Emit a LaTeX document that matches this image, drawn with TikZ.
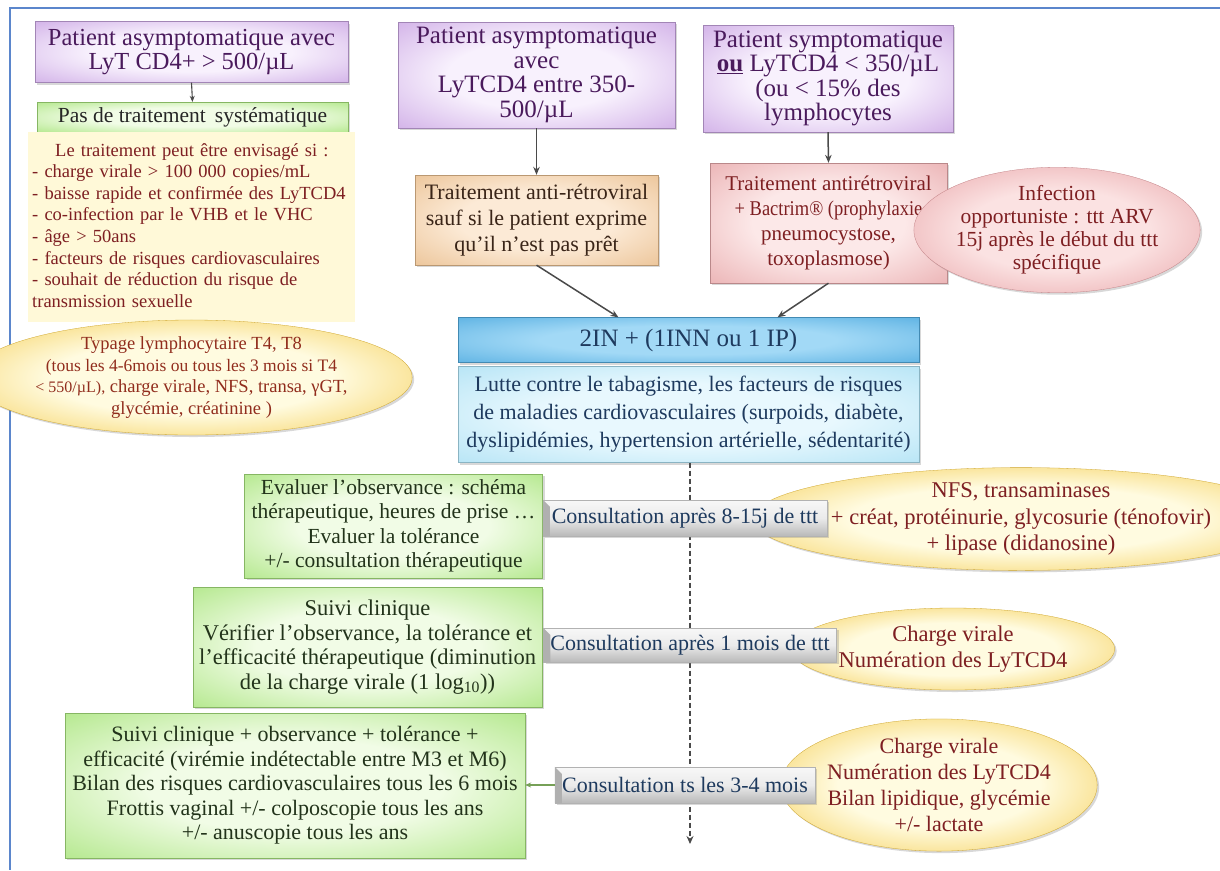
\documentclass[tikz,border=0pt]{standalone}
\usepackage{fontspec}
\usepackage{graphicx}
\setmainfont{Liberation Serif}
\usetikzlibrary{shapes.geometric,shadows,arrows.meta,calc}
\makeatletter
\pgfdeclareradialshading[tikz@radial@inner,tikz@radial@outer]{softradial}{\pgfpoint{0bp}{0bp}}{%
  color(0bp)=(tikz@radial@inner); color(16bp)=(tikz@radial@inner);
  color(40bp)=(tikz@radial@outer); color(50bp)=(tikz@radial@outer)}
\makeatother
\definecolor{frameblue}{HTML}{5B86CC}
\definecolor{purin}{HTML}{F8F1FD}
\definecolor{purout}{HTML}{CBA6E4}
\definecolor{purtxt}{HTML}{4A1A5C}
\definecolor{grnin}{HTML}{F1FCE6}
\definecolor{grnout}{HTML}{A8E47C}
\definecolor{grntxt}{HTML}{22331A}
\definecolor{creamfill}{HTML}{FFF9D8}
\definecolor{redtxt}{HTML}{7E1F22}
\definecolor{ylwin}{HTML}{FFFBE0}
\definecolor{ylwout}{HTML}{F2C232}
\definecolor{peachin}{HTML}{FCEAD6}
\definecolor{peachout}{HTML}{E9BE8E}
\definecolor{browntxt}{HTML}{3A2518}
\definecolor{pinkin}{HTML}{FCE8E8}
\definecolor{pinkout}{HTML}{E8AAAC}
\definecolor{rosein}{HTML}{FBE2E2}
\definecolor{roseout}{HTML}{E4989C}
\definecolor{bluein}{HTML}{A2D9F6}
\definecolor{blueout}{HTML}{52ACE0}
\definecolor{cyanin}{HTML}{E8F8FE}
\definecolor{cyanout}{HTML}{ADE1F4}
\definecolor{navytxt}{HTML}{1E3A5E}
\definecolor{arrowgray}{HTML}{4A4A4A}
\begin{document}
\begin{tikzpicture}[x=1pt,y=-1pt,
  base/.style={inner sep=2pt, align=center, drop shadow={shadow xshift=2pt, shadow yshift=-2pt, opacity=0.3}},
  purbox/.style={base, rectangle, inner color=purin, outer color=purout, shading=softradial, draw=purout!80!black, line width=0.3pt, text=purtxt},
  grnbox/.style={base, rectangle, inner color=grnin, outer color=grnout, shading=softradial, draw=grnout!80!black, line width=0.3pt, text=grntxt},
  peachbox/.style={base, rectangle, inner color=peachin, outer color=peachout, shading=softradial, draw=peachout!80!black, line width=0.3pt, text=browntxt},
  pinkbox/.style={base, rectangle, inner color=pinkin, outer color=pinkout, shading=softradial, draw=pinkout!80!black, line width=0.3pt, text=redtxt},
  bluebox/.style={base, rectangle, inner color=bluein, outer color=blueout, shading=softradial, draw=blueout!80!black, line width=0.3pt, text=navytxt},
  cyanbox/.style={base, rectangle, inner color=cyanin, outer color=cyanout, shading=softradial, draw=cyanout!80!black, line width=0.3pt, text=navytxt},
  ylwell/.style={base, ellipse, inner sep=0pt, inner color=ylwin, outer color=ylwout, shading=softradial, draw=ylwout!85!black, line width=0.3pt, text=redtxt},
  roseell/.style={base, ellipse, inner sep=0pt, inner color=rosein, outer color=roseout, shading=softradial, draw=roseout!85!black, line width=0.3pt, text=redtxt},
  consbar/.style={rectangle, inner sep=2pt, top color=gray!6, bottom color=gray!55, middle color=gray!16, draw=gray!60, line width=0.3pt, text=navytxt, font=\fontsize{22}{24}\selectfont, drop shadow={shadow xshift=2pt, shadow yshift=-2pt, opacity=0.3}},
  barcap/.style={fill=gray!62},
  darrow/.style={draw=arrowgray, line width=1.5pt, -{Stealth[length=8pt,width=6.5pt]}}
]
\useasboundingbox (0,0) rectangle (1220,870);
\fill[white] (0,0) rectangle (1220,870);
\draw[frameblue, line width=2pt] (1220,8) -- (10,8) -- (10,870);

% left column
\node[purbox, minimum width=313pt, minimum height=61pt, font=\fontsize{24.5}{24}\selectfont] (a) at (191.5,52)
  {Patient asymptomatique avec\\LyT CD4+ > 500/µL};
\node[grnbox, minimum width=311pt, minimum height=30pt, font=\fontsize{21.5}{22}\selectfont, text=black!85] (b) at (192.5,117)
  {Pas de traitement\, systématique};
\draw[darrow, line width=1.1pt, -{Stealth[length=6pt,width=5pt]}] (a.south) -- (b.north);
\node[rectangle, fill=creamfill, minimum width=327pt, minimum height=190pt, anchor=north west, inner sep=0pt] (cream) at (28,132) {};
\node[anchor=north west, inner sep=0pt, text width=326pt, align=left, text=redtxt, font=\fontsize{18.5}{21.6}\selectfont] (creamtxt) at (32,143)
  {\hspace*{23pt}Le traitement peut être envisagé si :\\
   - charge virale > 100 000 copies/mL\\
   - baisse rapide et confirmée des LyTCD4\\
   - co-infection par le VHB et le VHC\\
   - âge > 50ans\\
   - facteurs de risques cardiovasculaires\\
   - souhait de réduction du risque de\\
   transmission sexuelle};
\node[ylwell, minimum width=357pt, minimum height=111pt, text=redtxt!85!orange, font=\fontsize{18.5}{21.5}\selectfont] (typ) at (191.5,377.5)
  {Typage lymphocytaire T4, T8\\
   {\fontsize{17.5}{21.5}\selectfont (tous les 4-6mois ou tous les 3 mois si T4}\\
   {\fontsize{16}{21.5}\selectfont < 550/µL),} {\fontsize{18.5}{21.5}\selectfont charge virale, NFS, transa, γGT,}\\
   {\fontsize{18.5}{21.5}\selectfont glycémie, créatinine )}};

% middle column
\node[purbox, minimum width=277pt, minimum height=106pt, font=\fontsize{25}{24.5}\selectfont] (c) at (536.5,75)
  {Patient asymptomatique\\avec\\LyTCD4 entre 350-\\500/µL};
\node[peachbox, minimum width=243pt, minimum height=90pt, font=\fontsize{22}{26}\selectfont] (d) at (536.5,220)
  {Traitement anti-rétroviral\\sauf si le patient exprime\\qu’il n’est pas prêt};
\draw[darrow] (c.south) -- (d.north);

% right column
\node[purbox, minimum width=250pt, minimum height=107pt, font=\fontsize{25}{24.5}\selectfont] (e) at (828,78.5)
  {Patient symptomatique\\\underline{\textbf{ou}} LyTCD4 < 350/µL\\(ou < 15\% des\\lymphocytes};
\node[pinkbox, minimum width=237pt, minimum height=120pt, font=\fontsize{21}{25}\selectfont] (f) at (828.5,223)
  {Traitement antirétroviral\\\scalebox{0.88}[1]{+ Bactrim® (prophylaxie}\\pneumocystose,\\toxoplasmose)};
\draw[darrow] (e.south) -- (f.north);
\node[roseell, minimum width=217pt, minimum height=102pt, font=\fontsize{21.5}{23}\selectfont] (g) at (1057,230)
  {Infection\\opportuniste : ttt ARV\\15j après le début du ttt\\spécifique};

% central blue
\node[bluebox, minimum width=461pt, minimum height=45pt, font=\fontsize{25}{28}\selectfont] (h) at (688.5,340)
  {2IN + (1INN ou 1 IP)};
\node[cyanbox, minimum width=461pt, minimum height=96pt, font=\fontsize{22}{28}\selectfont] (i) at (688.5,414.5)
  {Lutte contre le tabagisme, les facteurs de risques\\de maladies cardiovasculaires (surpoids, diabète,\\dyslipidémies, hypertension artérielle, sédentarité)};
\draw[darrow] (d.south) -- ($(h.north)+(-70,0)$);
\draw[darrow] (f.south) -- ($(h.north)+(89,0)$);

% timeline
\coordinate (tend) at (690,844);
\draw[draw=arrowgray, line width=1.5pt, dash pattern=on 5pt off 3pt, -{Stealth[length=8pt,width=7pt]}] (i.south -| tend) -- (tend);

% follow-up 1
\node[grnbox, minimum width=298pt, minimum height=104pt, font=\fontsize{21.5}{24.5}\selectfont] (j) at (393.5,526)
  {Evaluer l’observance : schéma\\thérapeutique, heures de prise …\\Evaluer la tolérance\\+/- consultation thérapeutique};
\node[ylwell, minimum width=392pt, minimum height=95pt, font=\fontsize{22.5}{26.5}\selectfont] (l) at (1021,519)
  {NFS, transaminases\\+ créat, protéinurie, glycosurie (ténofovir)\\+ lipase (didanosine)};
\node[consbar, minimum width=284pt, minimum height=36pt] (k) at (685,518)
  {Consultation après 8-15j de ttt};
\fill[barcap] (k.north west) -- ($(k.north west)+(7,7)$) -- ($(k.south west)+(7,0)$) -- (k.south west) -- cycle;

% follow-up 2
\node[grnbox, minimum width=349pt, minimum height=120pt, font=\fontsize{22.5}{24.5}\selectfont] (m) at (367.5,647)
  {Suivi clinique\\Vérifier l’observance, la tolérance et\\l’efficacité thérapeutique (diminution\\de la charge virale (1 log\textsubscript{10}))};
\node[ylwell, minimum width=236pt, minimum height=82pt, font=\fontsize{22.5}{26.5}\selectfont] (o) at (953,649)
  {Charge virale\\Numération des LyTCD4};
\node[consbar, minimum width=293pt, minimum height=34pt] (n) at (690,645)
  {Consultation après 1 mois de ttt};
\fill[barcap] (n.north west) -- ($(n.north west)+(7,7)$) -- ($(n.south west)+(7,0)$) -- (n.south west) -- cycle;

% follow-up 3
\node[grnbox, minimum width=460pt, minimum height=145pt, font=\fontsize{22}{24.5}\selectfont] (p) at (295,785.5)
  {Suivi clinique + observance + tolérance +\\efficacité (virémie indétectable entre M3 et M6)\\Bilan des risques cardiovasculaires tous les 6 mois\\Frottis vaginal +/- colposcopie tous les ans\\+/- anuscopie tous les ans};
\node[ylwell, minimum width=250pt, minimum height=116pt, font=\fontsize{22}{26}\selectfont] (r) at (939,785)
  {Charge virale\\Numération des LyTCD4\\Bilan lipidique, glycémie\\+/- lactate};
\node[consbar, minimum width=260pt, minimum height=36pt] (q) at (685,785)
  {Consultation ts les 3-4 mois};
\fill[barcap] (q.north west) -- ($(q.north west)+(7,7)$) -- ($(q.south west)+(7,0)$) -- (q.south west) -- cycle;
\draw[draw=grnout!70!black, line width=1.2pt, -{Stealth[length=6pt,width=5pt]}] (q.west) -- (q.west -| p.east);
\end{tikzpicture}
\end{document}
